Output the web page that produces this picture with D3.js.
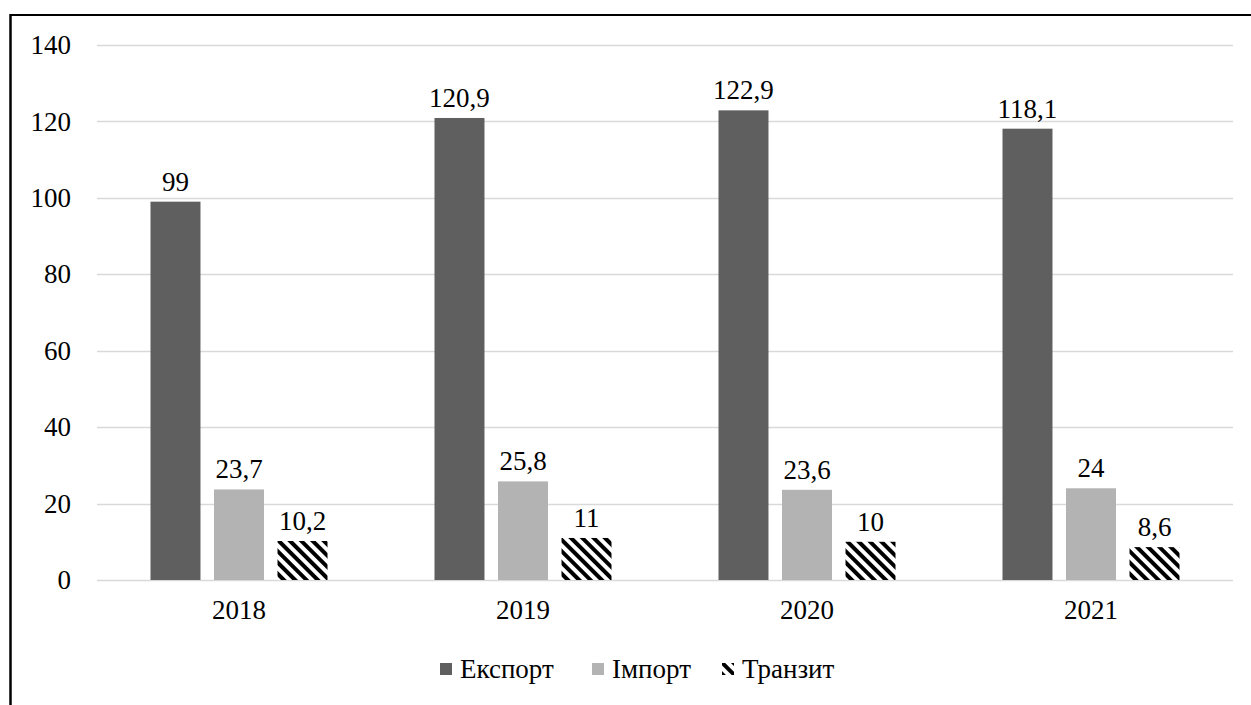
<!DOCTYPE html>
<html>
<head>
<meta charset="utf-8">
<script src="https://cdn.jsdelivr.net/npm/d3@7"></script>
</head>
<body style="margin:0">
<svg id="chart" width="1251" height="705" style="display:block"></svg>
<script>
const categories = ["2018", "2019", "2020", "2021"];
const seriesNames = ["Експорт", "Імпорт", "Транзит"];
const exportValues = [99, 120.9, 122.9, 118.1];
const importValues = [23.7, 25.8, 23.6, 24];
const transitValues = [10.2, 11, 10, 8.6];
const yTicks = [0, 20, 40, 60, 80, 100, 120, 140];

const seriesValues = [exportValues, importValues, transitValues];
const fmt = v => String(v).replace(".", ",");

const svg = d3.select("#chart");
const W = 1251, H = 705;
const plot = { left: 97, right: 1233, top: 45, bottom: 580 };
const FAMILY = '"Liberation Serif"';
const styleText = sel => sel.style("font-family", FAMILY).style("font-size", "27px").attr("fill", "#000");

const defs = svg.append("defs");
const pat = defs.append("pattern")
  .attr("id", "hatch")
  .attr("patternUnits", "userSpaceOnUse")
  .attr("width", 8).attr("height", 8)
  .attr("patternTransform", "rotate(-45)");
pat.append("rect").attr("width", 8).attr("height", 8).attr("fill", "#fff");
pat.append("rect").attr("x", 0).attr("width", 4).attr("height", 8).attr("fill", "#000");

const fills = ["#5f5f5f", "#b3b3b3", "url(#hatch)"];

svg.append("line").attr("x1", 10).attr("x2", W).attr("y1", 15).attr("y2", 15)
  .attr("stroke", "#000").attr("stroke-width", 2);
svg.append("line").attr("x1", 10.5).attr("x2", 10.5).attr("y1", 14).attr("y2", H)
  .attr("stroke", "#000").attr("stroke-width", 2.5);

const y = d3.scaleLinear().domain([0, 140]).range([plot.bottom, plot.top]);
const x0 = d3.scaleBand().domain(categories).range([plot.left, plot.right]).paddingInner(0).paddingOuter(0);
const inner = d3.scaleBand().domain(seriesNames).range([53.5, x0.bandwidth() - 53.5]).paddingInner(0.213);

svg.append("g").selectAll("line").data(yTicks).join("line")
  .attr("x1", plot.left).attr("x2", plot.right)
  .attr("y1", d => Math.round(y(d)) + 0.5).attr("y2", d => Math.round(y(d)) + 0.5)
  .attr("stroke", "#d9d9d9").attr("stroke-width", 1.5);

// Y-axis tick labels from the scale
svg.append("g").selectAll("text").data(yTicks).join("text")
  .attr("x", 71).attr("y", d => y(d)).attr("dy", "0.34em").attr("text-anchor", "end")
  .call(styleText)
  .text(d => d);

// X-axis category labels from the band scale
svg.append("g").selectAll("text").data(categories).join("text")
  .attr("x", d => x0(d) + x0.bandwidth() / 2).attr("y", 600).attr("dy", "0.72em").attr("text-anchor", "middle")
  .call(styleText)
  .text(d => d);

const groups = svg.append("g").selectAll("g").data(categories).join("g")
  .attr("transform", d => `translate(${x0(d)},0)`);

seriesNames.forEach((s, si) => {
  groups.append("rect")
    .attr("x", inner(s))
    .attr("width", inner.bandwidth())
    .attr("y", (d, i) => y(seriesValues[si][i]))
    .attr("height", (d, i) => y(0) - y(seriesValues[si][i]))
    .attr("fill", fills[si]);
  groups.append("text")
    .attr("x", inner(s) + inner.bandwidth() / 2)
    .attr("y", (d, i) => y(seriesValues[si][i]) - 11)
    .attr("text-anchor", "middle")
    .call(styleText)
    .text((d, i) => fmt(seriesValues[si][i]));
});

const legendItems = [
  { name: seriesNames[0], fill: fills[0], x: 440 },
  { name: seriesNames[1], fill: fills[1], x: 592 },
  { name: seriesNames[2], fill: fills[2], x: 722 }
];
const lg = svg.append("g");
legendItems.forEach(it => {
  lg.append("rect").attr("x", it.x).attr("y", 663).attr("width", 12).attr("height", 12).attr("fill", it.fill);
  lg.append("text").attr("x", it.x + 20).attr("y", 669).attr("dy", "0.34em")
    .call(styleText).text(it.name);
});

if (document.fonts && document.fonts.load) {
  document.fonts.load('27px "Liberation Serif"', "0123456789,ЕкспортІмпортТранзит").then(() => {
    svg.selectAll("text").style("font-family", FAMILY);
  });
}
</script>
</body>
</html>
